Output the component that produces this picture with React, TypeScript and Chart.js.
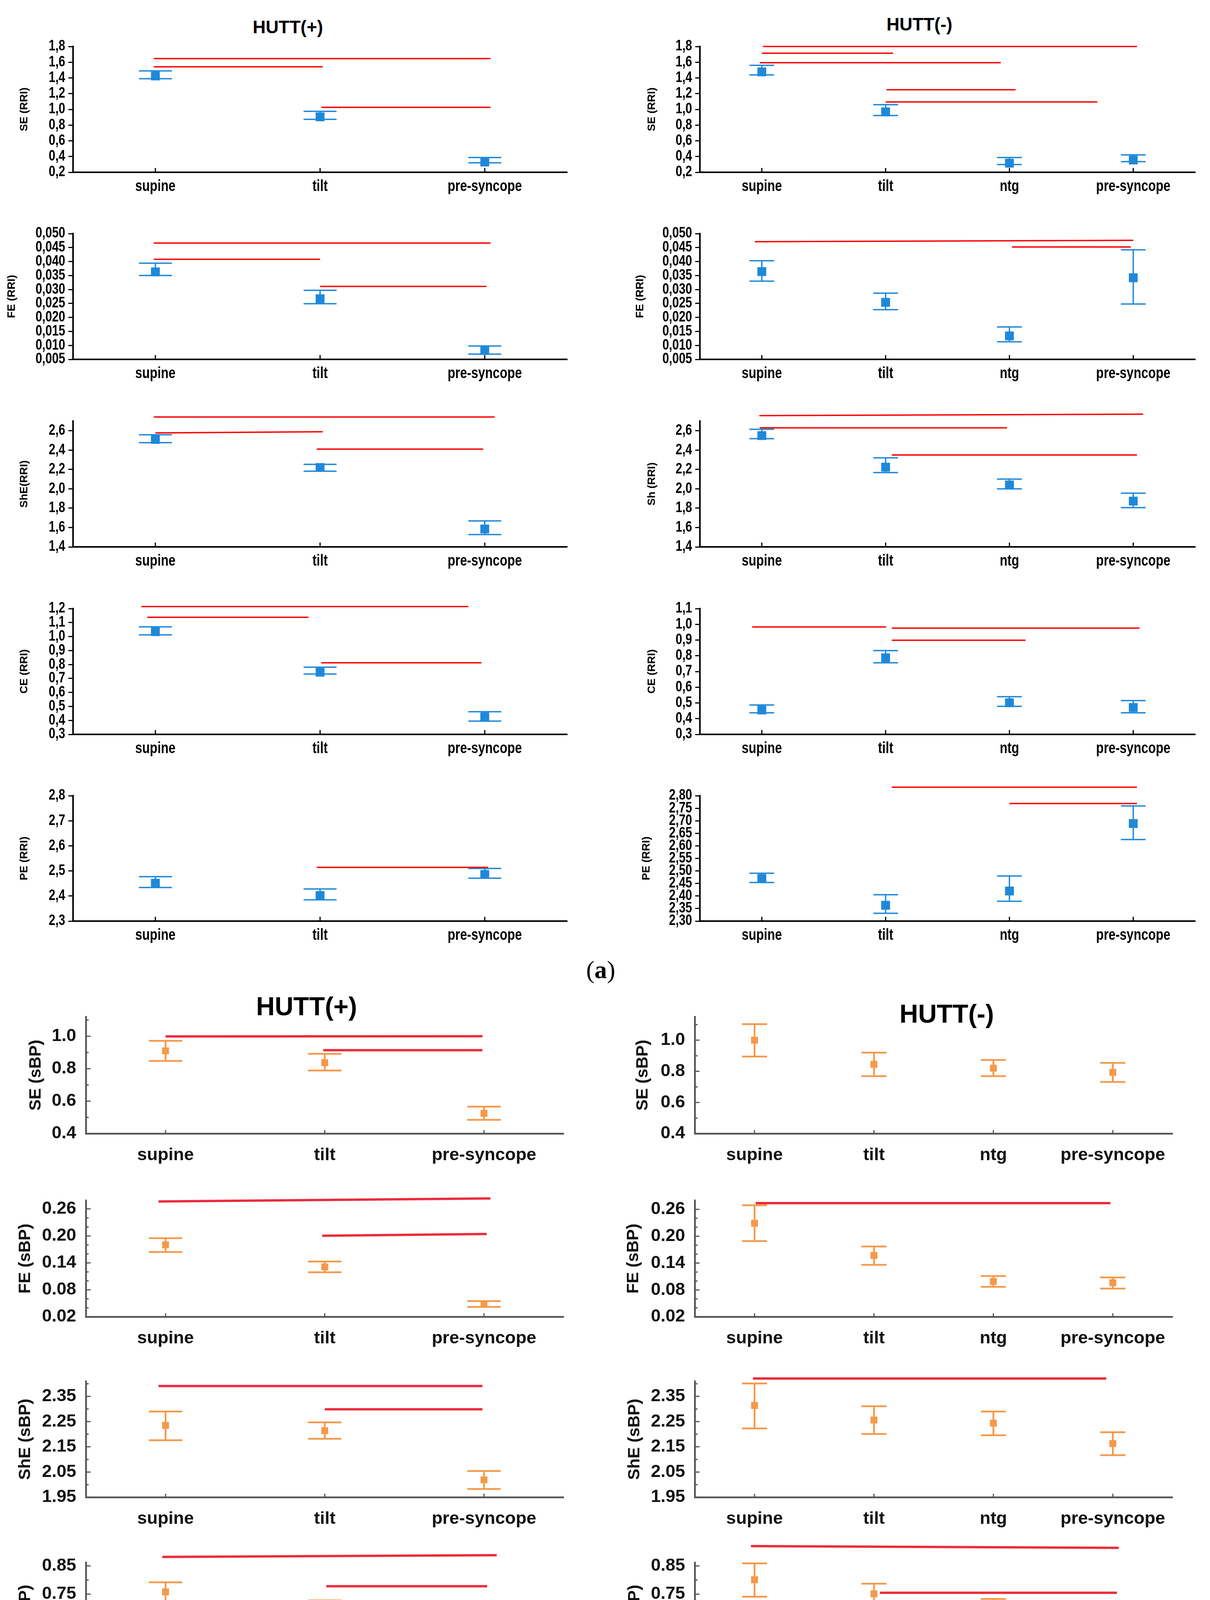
import React, { useEffect, useRef } from "react";
import { Chart, registerables } from "chart.js";
Chart.register(...registerables);

const SANS = '"Liberation Sans", Arial, sans-serif';
const SERIF = '"Liberation Serif", "DejaVu Serif", serif';

// ---------- categories ----------
const catsPlus = ["supine", "tilt", "pre-syncope"];
const catsMinus = ["supine", "tilt", "ntg", "pre-syncope"];

// ---------- (a) RRI, HUTT(+) ----------
const seRriPlusMean = [1.425, 0.905, 0.33];
const seRriPlusLow = [1.39, 0.873, 0.32];
const seRriPlusHigh = [1.49, 0.975, 0.387];
const seRriPlusSig = [[-0.01, 2.035, 1.646, 1.646], [-0.01, 1.016, 1.542, 1.542], [1.007, 2.035, 1.026, 1.026]];

const feRriPlusMean = [0.0363, 0.0267, 0.0082];
const feRriPlusLow = [0.035, 0.0249, 0.0069];
const feRriPlusHigh = [0.0394, 0.0297, 0.0098];
const feRriPlusSig = [[-0.01, 2.035, 0.0466, 0.0466], [-0.01, 1.0, 0.0408, 0.0408], [1.0, 2.01, 0.0311, 0.0311]];

const shRriPlusMean = [2.51, 2.22, 1.585];
const shRriPlusLow = [2.477, 2.182, 1.527];
const shRriPlusHigh = [2.559, 2.253, 1.668];
const shRriPlusSig = [[-0.01, 2.06, 2.742, 2.742], [0.0, 1.016, 2.578, 2.59], [0.98, 1.99, 2.41, 2.41]];

const ceRriPlusMean = [1.035, 0.745, 0.425];
const ceRriPlusLow = [1.012, 0.732, 0.395];
const ceRriPlusHigh = [1.069, 0.781, 0.462];
const ceRriPlusSig = [[-0.085, 1.9, 1.215, 1.215], [-0.05, 0.93, 1.138, 1.138], [1.007, 1.98, 0.812, 0.812]];

const peRriPlusMean = [2.451, 2.402, 2.486];
const peRriPlusLow = [2.434, 2.385, 2.471];
const peRriPlusHigh = [2.477, 2.428, 2.51];
const peRriPlusSig = [[0.98, 2.02, 2.514, 2.514]];

// ---------- (a) RRI, HUTT(-) ----------
const seRriMinusMean = [1.477, 0.968, 0.316, 0.356];
const seRriMinusLow = [1.438, 0.922, 0.298, 0.335];
const seRriMinusHigh = [1.56, 1.06, 0.387, 0.421];
const seRriMinusSig = [
  [0.01, 3.03, 1.8, 1.8], [0.0, 1.06, 1.714, 1.714], [-0.016, 1.93, 1.594, 1.594],
  [1.007, 2.05, 1.25, 1.25], [1.0, 2.71, 1.094, 1.094],
];

const feRriMinusMean = [0.0364, 0.0254, 0.0134, 0.0342];
const feRriMinusLow = [0.033, 0.0228, 0.0113, 0.0248];
const feRriMinusHigh = [0.0403, 0.0287, 0.0166, 0.0442];
const feRriMinusSig = [[-0.056, 3.0, 0.0471, 0.0476], [2.02, 2.98, 0.0452, 0.0452]];

const shRriMinusMean = [2.55, 2.224, 2.04, 1.873];
const shRriMinusLow = [2.518, 2.168, 2.0, 1.806];
const shRriMinusHigh = [2.615, 2.32, 2.1, 1.955];
const shRriMinusSig = [[-0.02, 3.08, 2.757, 2.772], [-0.016, 1.98, 2.63, 2.63], [1.05, 3.03, 2.35, 2.35]];

const ceRriMinusMean = [0.455, 0.787, 0.501, 0.471];
const ceRriMinusLow = [0.437, 0.755, 0.478, 0.437];
const ceRriMinusHigh = [0.487, 0.833, 0.54, 0.515];
const ceRriMinusSig = [[-0.078, 1.004, 0.983, 0.983], [1.05, 3.05, 0.976, 0.976], [1.05, 2.13, 0.899, 0.899]];

const peRriMinusMean = [2.47, 2.363, 2.42, 2.689];
const peRriMinusLow = [2.454, 2.331, 2.379, 2.625];
const peRriMinusHigh = [2.491, 2.405, 2.48, 2.759];
const peRriMinusSig = [[1.05, 3.03, 2.834, 2.834], [2.0, 3.03, 2.769, 2.769]];

// ---------- (b) sBP, HUTT(+) ----------
const seSbpPlusMean = [0.91, 0.837, 0.525];
const seSbpPlusLow = [0.848, 0.789, 0.485];
const seSbpPlusHigh = [0.972, 0.892, 0.566];
const seSbpPlusSig = [[0.0, 1.99, 0.999, 1.0], [0.99, 1.99, 0.914, 0.914]];

const feSbpPlusMean = [0.18, 0.131, 0.048];
const feSbpPlusLow = [0.164, 0.119, 0.042];
const feSbpPlusHigh = [0.195, 0.143, 0.055];
const feSbpPlusSig = [[-0.044, 2.04, 0.2767, 0.2834], [0.984, 2.017, 0.2003, 0.2042]];

const sheSbpPlusMean = [2.235, 2.214, 2.019];
const sheSbpPlusLow = [2.176, 2.182, 1.983];
const sheSbpPlusHigh = [2.29, 2.247, 2.054];
const sheSbpPlusSig = [[-0.044, 1.99, 2.391, 2.391], [1.0, 1.99, 2.299, 2.299]];

const ceSbpPlusMean = [0.758, 0.703, 0.535];
const ceSbpPlusLow = [0.722, 0.674, 0.509];
const ceSbpPlusHigh = [0.792, 0.728, 0.561];
const ceSbpPlusSig = [[-0.02, 2.08, 0.8816, 0.888], [1.01, 2.02, 0.778, 0.778]];

const peSbpPlusMean = [2.4215, 2.328, 2.374];
const peSbpPlusLow = [2.384, 2.31, 2.355];
const peSbpPlusHigh = [2.458, 2.345, 2.39];
const peSbpPlusSig = [[-0.03, 1.96, 2.502, 2.502], [0.005, 0.955, 2.46, 2.46], [1.05, 2.005, 2.396, 2.396]];

// ---------- (b) sBP, HUTT(-) ----------
const seSbpMinusMean = [1.0, 0.845, 0.82, 0.793];
const seSbpMinusLow = [0.895, 0.769, 0.769, 0.732];
const seSbpMinusHigh = [1.103, 0.92, 0.873, 0.854];
const seSbpMinusSig: number[][] = [];

const feSbpMinusMean = [0.229, 0.157, 0.099, 0.096];
const feSbpMinusLow = [0.189, 0.136, 0.087, 0.083];
const feSbpMinusHigh = [0.269, 0.177, 0.111, 0.108];
const feSbpMinusSig = [[0.01, 2.98, 0.274, 0.274]];

const sheSbpMinusMean = [2.314, 2.256, 2.244, 2.163];
const sheSbpMinusLow = [2.223, 2.201, 2.196, 2.117];
const sheSbpMinusHigh = [2.401, 2.311, 2.29, 2.208];
const sheSbpMinusSig = [[-0.013, 2.945, 2.421, 2.421]];

const ceSbpMinusMean = [0.801, 0.751, 0.7, 0.662];
const ceSbpMinusLow = [0.741, 0.713, 0.668, 0.629];
const ceSbpMinusHigh = [0.859, 0.787, 0.733, 0.691];
const ceSbpMinusSig = [[-0.03, 3.05, 0.92, 0.914], [1.05, 3.035, 0.755, 0.755]];

const peSbpMinusMean = [2.38, 2.367, 2.258, 2.326];
const peSbpMinusLow = [2.343, 2.337, 2.231, 2.3];
const peSbpMinusHigh = [2.416, 2.397, 2.285, 2.351];
const peSbpMinusSig = [[-0.013, 1.974, 2.486, 2.486]];

// ---------- tick labels ----------
const seRriTicks = [0.2, 0.4, 0.6, 0.8, 1.0, 1.2, 1.4, 1.6, 1.8];
const feRriTicks = [0.005, 0.01, 0.015, 0.02, 0.025, 0.03, 0.035, 0.04, 0.045, 0.05];
const shRriTicks = [1.4, 1.6, 1.8, 2.0, 2.2, 2.4, 2.6];
const ceRriPlusTicks = [0.3, 0.4, 0.5, 0.6, 0.7, 0.8, 0.9, 1.0, 1.1, 1.2];
const ceRriMinusTicks = [0.3, 0.4, 0.5, 0.6, 0.7, 0.8, 0.9, 1.0, 1.1];
const peRriPlusTicks = [2.3, 2.4, 2.5, 2.6, 2.7, 2.8];
const peRriMinusTicks = [2.3, 2.35, 2.4, 2.45, 2.5, 2.55, 2.6, 2.65, 2.7, 2.75, 2.8];

const seSbpTicks = [0.4, 0.6, 0.8, 1.0];
const seSbpMinor = [0.5, 0.7, 0.9, 1.1];
const feSbpTicks = [0.02, 0.08, 0.14, 0.2, 0.26];
const feSbpMinor = [0.04, 0.06, 0.1, 0.12, 0.16, 0.18, 0.22, 0.24];
const sheSbpTicks = [1.95, 2.05, 2.15, 2.25, 2.35];
const sheSbpMinor = [2.0, 2.1, 2.2, 2.3, 2.4];
const ceSbpTicks = [0.45, 0.55, 0.65, 0.75, 0.85];
const ceSbpMinor = [0.5, 0.6, 0.7, 0.8];
const peSbpTicks = [2.2, 2.26, 2.32, 2.38, 2.44];
const peSbpMinor = [2.22, 2.24, 2.28, 2.3, 2.34, 2.36, 2.4, 2.42, 2.46];

// ---------- layout (page pixels) ----------
const A_BOTTOMS = [441, 920, 1400, 1880, 2358];
const A_TOPS = [119, 598, 1078, 1558, 2037];
const B_BOTTOMS = [2902, 3371, 3833, 4298, 4765];
const B_TOPS = [2603, 3073, 3536, 4000, 4465];
const COLS: any = {
  a: [{ left: 0, axisX: 187, axisR: 1452 }, { left: 1549, axisX: 1792, axisR: 3060 }],
  b: [{ left: 0, axisX: 220, axisR: 1443 }, { left: 1549, axisX: 1779, axisR: 3002 }],
};
const COL_W = 1549;
const PAD_T = 70;
const X_H = 90;

const STYLES: any = {
  a: {
    marker: "#1f88d9", sig: "#ff0000", sigW: 3.5, barW: 3.5, markerR: 16, capFrac: 0.1,
    axis: "#000000", axisW: 4, text: "#000000",
    tickFont: { family: SANS, size: 36, weight: "bold" },
    titleFont: { family: SANS, size: 28, weight: "bold" },
    xPad: 15, yPad: 8, yTickLen: 12, xTickIn: 11, comma: true,
    condense: 0.8, yLabSize: 38, xLabSize: 40, xLabDy: 37, yLabGap: 20,
  },
  b: {
    marker: "#f5994a", sig: "#ec2b3b", sigW: 6, barW: 4.5, markerR: 12.5, capFrac: 0.105,
    axis: "#555555", axisW: 4.5, text: "#111111",
    tickFont: { family: SANS, size: 45, weight: "bold" },
    titleFont: { family: SANS, size: 43, weight: "bold" },
    xPad: 21, yPad: 17, yTickLen: 0, xTickIn: 9, comma: false,
    condense: 0,
  },
};

const panels: any[] = [
  { sec: "a", col: 0, row: 0, cats: catsPlus, mean: seRriPlusMean, lo: seRriPlusLow, hi: seRriPlusHigh, sig: seRriPlusSig, yMin: 0.2, yMax: 1.8, majors: seRriTicks, minors: [], dec: 1, yTitle: "SE (RRI)", yTitleX: 62 },
  { sec: "a", col: 0, row: 1, cats: catsPlus, mean: feRriPlusMean, lo: feRriPlusLow, hi: feRriPlusHigh, sig: feRriPlusSig, yMin: 0.005, yMax: 0.05, majors: feRriTicks, minors: [], dec: 3, yTitle: "FE (RRI)", yTitleX: 30 },
  { sec: "a", col: 0, row: 2, cats: catsPlus, mean: shRriPlusMean, lo: shRriPlusLow, hi: shRriPlusHigh, sig: shRriPlusSig, yMin: 1.4, yMax: 2.7, majors: shRriTicks, minors: [], dec: 1, yTitle: "ShE(RRI)", yTitleX: 62 },
  { sec: "a", col: 0, row: 3, cats: catsPlus, mean: ceRriPlusMean, lo: ceRriPlusLow, hi: ceRriPlusHigh, sig: ceRriPlusSig, yMin: 0.3, yMax: 1.2, majors: ceRriPlusTicks, minors: [], dec: 1, yTitle: "CE (RRI)", yTitleX: 62 },
  { sec: "a", col: 0, row: 4, cats: catsPlus, mean: peRriPlusMean, lo: peRriPlusLow, hi: peRriPlusHigh, sig: peRriPlusSig, yMin: 2.3, yMax: 2.8, majors: peRriPlusTicks, minors: [], dec: 1, yTitle: "PE (RRI)", yTitleX: 62 },

  { sec: "a", col: 1, row: 0, cats: catsMinus, mean: seRriMinusMean, lo: seRriMinusLow, hi: seRriMinusHigh, sig: seRriMinusSig, yMin: 0.2, yMax: 1.8, majors: seRriTicks, minors: [], dec: 1, yTitle: "SE (RRI)", yTitleX: 1669 },
  { sec: "a", col: 1, row: 1, cats: catsMinus, mean: feRriMinusMean, lo: feRriMinusLow, hi: feRriMinusHigh, sig: feRriMinusSig, yMin: 0.005, yMax: 0.05, majors: feRriTicks, minors: [], dec: 3, yTitle: "FE (RRI)", yTitleX: 1639 },
  { sec: "a", col: 1, row: 2, cats: catsMinus, mean: shRriMinusMean, lo: shRriMinusLow, hi: shRriMinusHigh, sig: shRriMinusSig, yMin: 1.4, yMax: 2.7, majors: shRriTicks, minors: [], dec: 1, yTitle: "Sh (RRI)", yTitleX: 1669 },
  { sec: "a", col: 1, row: 3, cats: catsMinus, mean: ceRriMinusMean, lo: ceRriMinusLow, hi: ceRriMinusHigh, sig: ceRriMinusSig, yMin: 0.3, yMax: 1.1, majors: ceRriMinusTicks, minors: [], dec: 1, yTitle: "CE (RRI)", yTitleX: 1669 },
  { sec: "a", col: 1, row: 4, cats: catsMinus, mean: peRriMinusMean, lo: peRriMinusLow, hi: peRriMinusHigh, sig: peRriMinusSig, yMin: 2.3, yMax: 2.8, majors: peRriMinusTicks, minors: [], dec: 2, yTitle: "PE (RRI)", yTitleX: 1655 },

  { sec: "b", col: 0, row: 0, cats: catsPlus, mean: seSbpPlusMean, lo: seSbpPlusLow, hi: seSbpPlusHigh, sig: seSbpPlusSig, yMin: 0.4, yMax: 1.12, majors: seSbpTicks, minors: seSbpMinor, dec: 1, yTitle: "SE (sBP)", yTitleX: 92 },
  { sec: "b", col: 0, row: 1, cats: catsPlus, mean: feSbpPlusMean, lo: feSbpPlusLow, hi: feSbpPlusHigh, sig: feSbpPlusSig, yMin: 0.02, yMax: 0.279, majors: feSbpTicks, minors: feSbpMinor, dec: 2, yTitle: "FE (sBP)", yTitleX: 65 },
  { sec: "b", col: 0, row: 2, cats: catsPlus, mean: sheSbpPlusMean, lo: sheSbpPlusLow, hi: sheSbpPlusHigh, sig: sheSbpPlusSig, yMin: 1.95, yMax: 2.41, majors: sheSbpTicks, minors: sheSbpMinor, dec: 2, yTitle: "ShE (sBP)", yTitleX: 65 },
  { sec: "b", col: 0, row: 3, cats: catsPlus, mean: ceSbpPlusMean, lo: ceSbpPlusLow, hi: ceSbpPlusHigh, sig: ceSbpPlusSig, yMin: 0.45, yMax: 0.862, majors: ceSbpTicks, minors: ceSbpMinor, dec: 2, yTitle: "CE (sBP)", yTitleX: 65 },
  { sec: "b", col: 0, row: 4, cats: catsPlus, mean: peSbpPlusMean, lo: peSbpPlusLow, hi: peSbpPlusHigh, sig: peSbpPlusSig, yMin: 2.2, yMax: 2.471, majors: peSbpTicks, minors: peSbpMinor, dec: 2, yTitle: "PE (sBP)", yTitleX: 64 },

  { sec: "b", col: 1, row: 0, cats: catsMinus, mean: seSbpMinusMean, lo: seSbpMinusLow, hi: seSbpMinusHigh, sig: seSbpMinusSig, yMin: 0.4, yMax: 1.15, majors: seSbpTicks, minors: seSbpMinor, dec: 1, yTitle: "SE (sBP)", yTitleX: 1646 },
  { sec: "b", col: 1, row: 1, cats: catsMinus, mean: feSbpMinusMean, lo: feSbpMinusLow, hi: feSbpMinusHigh, sig: feSbpMinusSig, yMin: 0.02, yMax: 0.28, majors: feSbpTicks, minors: feSbpMinor, dec: 2, yTitle: "FE (sBP)", yTitleX: 1622 },
  { sec: "b", col: 1, row: 2, cats: catsMinus, mean: sheSbpMinusMean, lo: sheSbpMinusLow, hi: sheSbpMinusHigh, sig: sheSbpMinusSig, yMin: 1.95, yMax: 2.41, majors: sheSbpTicks, minors: sheSbpMinor, dec: 2, yTitle: "ShE (sBP)", yTitleX: 1625 },
  { sec: "b", col: 1, row: 3, cats: catsMinus, mean: ceSbpMinusMean, lo: ceSbpMinusLow, hi: ceSbpMinusHigh, sig: ceSbpMinusSig, yMin: 0.45, yMax: 0.862, majors: ceSbpTicks, minors: ceSbpMinor, dec: 2, yTitle: "CE (sBP)", yTitleX: 1625 },
  { sec: "b", col: 1, row: 4, cats: catsMinus, mean: peSbpMinusMean, lo: peSbpMinusLow, hi: peSbpMinusHigh, sig: peSbpMinusSig, yMin: 2.2, yMax: 2.471, majors: peSbpTicks, minors: peSbpMinor, dec: 2, yTitle: "PE (sBP)", yTitleX: 1625 },
];

function geometry(p: any) {
  const col = COLS[p.sec][p.col];
  const top = p.sec === "a" ? A_TOPS[p.row] : B_TOPS[p.row];
  const bottom = p.sec === "a" ? A_BOTTOMS[p.row] : B_BOTTOMS[p.row];
  const plotH = bottom - top;
  return {
    left: col.left,
    top: top - PAD_T,
    width: COL_W,
    height: PAD_T + plotH + X_H,
    yW: col.axisX - col.left,
    padR: col.left + COL_W - col.axisR,
    titleOffset: p.yTitleX - col.left,
  };
}

function PanelChart({ p }: { p: any }) {
  const ref = useRef<HTMLCanvasElement>(null);
  const g = geometry(p);
  useEffect(() => {
    const st = STYLES[p.sec];
    const n = p.cats.length;
    const fmt = (v: number) => {
      const s = Number(v).toFixed(p.dec);
      return st.comma ? s.replace(".", ",") : s;
    };
    const lineSets = p.sig.map((s: number[]) => ({
      type: "line",
      data: [{ x: s[0], y: s[2] }, { x: s[1], y: s[3] }],
      borderColor: st.sig,
      borderWidth: st.sigW,
      pointRadius: 0,
      fill: false,
      tension: 0,
      clip: false,
      order: 2,
    }));
    const markerSet = {
      type: "scatter",
      data: p.mean.map((m: number, i: number) => ({ x: i, y: m })),
      pointStyle: "rect",
      pointRadius: st.markerR,
      backgroundColor: st.marker,
      borderWidth: 0,
      clip: false,
      order: 1,
    };
    const titleLH = st.titleFont.size * 1.2;
    const condensed = st.condense > 0;
    const drawText = (ctx: any, text: string, x: number, y: number, align: string, size: number) => {
      ctx.save();
      ctx.font = `bold ${size}px ${SANS}`;
      ctx.fillStyle = st.text;
      ctx.textAlign = align;
      ctx.textBaseline = "middle";
      ctx.translate(x, y);
      ctx.scale(st.condense, 1);
      ctx.fillText(text, 0, 0);
      ctx.restore();
    };
    const decor = {
      id: "decor" + p.sec + p.col + p.row,
      beforeDatasetsDraw(chart: any) {
        const { ctx } = chart;
        const xs = chart.scales.x;
        const ys = chart.scales.y;
        const cap = (xs.getPixelForValue(1) - xs.getPixelForValue(0)) * st.capFrac;
        ctx.save();
        ctx.strokeStyle = st.marker;
        ctx.lineWidth = st.barW;
        ctx.lineCap = "butt";
        for (let i = 0; i < n; i++) {
          const x = xs.getPixelForValue(i);
          const yT = ys.getPixelForValue(p.hi[i]);
          const yB = ys.getPixelForValue(p.lo[i]);
          ctx.beginPath();
          ctx.moveTo(x, yT);
          ctx.lineTo(x, yB);
          ctx.moveTo(x - cap, yT);
          ctx.lineTo(x + cap, yT);
          ctx.moveTo(x - cap, yB);
          ctx.lineTo(x + cap, yB);
          ctx.stroke();
        }
        ctx.restore();
      },
      afterDraw(chart: any) {
        const { ctx, chartArea } = chart;
        const xs = chart.scales.x;
        const ys = chart.scales.y;
        ctx.save();
        ctx.strokeStyle = st.axis;
        ctx.lineWidth = 3;
        ctx.beginPath();
        for (let i = 0; i < n; i++) {
          const x = xs.getPixelForValue(i);
          ctx.moveTo(x, chartArea.bottom);
          ctx.lineTo(x, chartArea.bottom - st.xTickIn);
        }
        if (p.sec === "b") {
          for (const v of p.majors) {
            const y = ys.getPixelForValue(v);
            ctx.moveTo(chartArea.left, y);
            ctx.lineTo(chartArea.left + 12, y);
          }
          for (const v of p.minors) {
            const y = ys.getPixelForValue(v);
            ctx.moveTo(chartArea.left, y);
            ctx.lineTo(chartArea.left + 7, y);
          }
        }
        ctx.stroke();
        ctx.restore();
        if (condensed) {
          for (const v of p.majors) {
            drawText(ctx, fmt(v), chartArea.left - st.yLabGap, ys.getPixelForValue(v), "right", st.yLabSize);
          }
          for (let i = 0; i < n; i++) {
            drawText(ctx, p.cats[i], xs.getPixelForValue(i), chartArea.bottom + st.xLabDy, "center", st.xLabSize);
          }
        }
      },
    };
    const chart = new Chart(ref.current as HTMLCanvasElement, {
      type: "scatter",
      data: { datasets: [...lineSets, markerSet] as any },
      options: {
        responsive: false,
        animation: false,
        devicePixelRatio: 1,
        events: [],
        layout: { padding: { top: PAD_T, right: g.padR, left: 0, bottom: 0 } },
        plugins: { legend: { display: false }, tooltip: { enabled: false }, title: { display: false } },
        scales: {
          x: {
            type: "linear",
            min: -0.5,
            max: n - 0.5,
            afterBuildTicks: (s: any) => {
              s.ticks = p.cats.map((_: string, i: number) => ({ value: i }));
            },
            afterFit: (s: any) => {
              s.height = X_H;
            },
            ticks: {
              display: !condensed,
              callback: (v: any) => p.cats[Math.round(Number(v))],
              font: st.tickFont,
              color: st.text,
              padding: st.xPad,
              autoSkip: false,
              maxRotation: 0,
              minRotation: 0,
            },
            grid: { display: false },
            border: { display: true, color: st.axis, width: st.axisW },
          },
          y: {
            type: "linear",
            min: p.yMin,
            max: p.yMax,
            afterBuildTicks: (s: any) => {
              s.ticks = p.majors.map((v: number) => ({ value: v }));
            },
            afterFit: (s: any) => {
              s.width = g.yW;
            },
            ticks: {
              display: !condensed,
              callback: (v: any) => fmt(v),
              font: st.tickFont,
              color: st.text,
              padding: st.yPad,
              autoSkip: false,
            },
            grid:
              st.yTickLen > 0
                ? { display: true, drawOnChartArea: false, drawTicks: true, tickLength: st.yTickLen, lineWidth: 3, color: st.axis }
                : { display: false },
            border: { display: true, color: st.axis, width: st.axisW },
            title: {
              display: true,
              text: p.yTitle,
              font: st.titleFont,
              color: st.text,
              padding: { top: Math.max(0, g.titleOffset - titleLH / 2), bottom: 0 },
            },
          },
        },
      } as any,
      plugins: [decor],
    });
    return () => chart.destroy();
  }, []);
  return (
    <canvas
      ref={ref}
      width={g.width}
      height={g.height}
      style={{ position: "absolute", left: g.left, top: g.top, width: g.width, height: g.height }}
    />
  );
}

function Label({ children, x, y, font }: { children: any; x: number; y: number; font: string }) {
  return (
    <div
      style={{
        position: "absolute",
        left: x,
        top: y,
        transform: "translate(-50%, -50%)",
        font,
        lineHeight: 1,
        whiteSpace: "nowrap",
        color: "#000",
      }}
    >
      {children}
    </div>
  );
}

export default function App() {
  return (
    <div style={{ position: "absolute", left: 0, top: 0, width: 3098, height: 5015, background: "#fff", overflow: "hidden" }}>
      <Label x={737} y={69} font={`bold 46px ${SANS}`}>HUTT(+)</Label>
      <Label x={2354} y={62} font={`bold 46px ${SANS}`}>HUTT(-)</Label>
      <Label x={785} y={2576} font={`bold 66px ${SANS}`}>HUTT(+)</Label>
      <Label x={2424} y={2595} font={`bold 66px ${SANS}`}>HUTT(-)</Label>
      <Label x={1538} y={2483} font={`64px ${SERIF}`}>
        (<b>a</b>)
      </Label>
      <Label x={1532} y={4945} font={`64px ${SERIF}`}>
        (<b>b</b>)
      </Label>
      {panels.map((p, i) => (
        <PanelChart key={i} p={p} />
      ))}
    </div>
  );
}
